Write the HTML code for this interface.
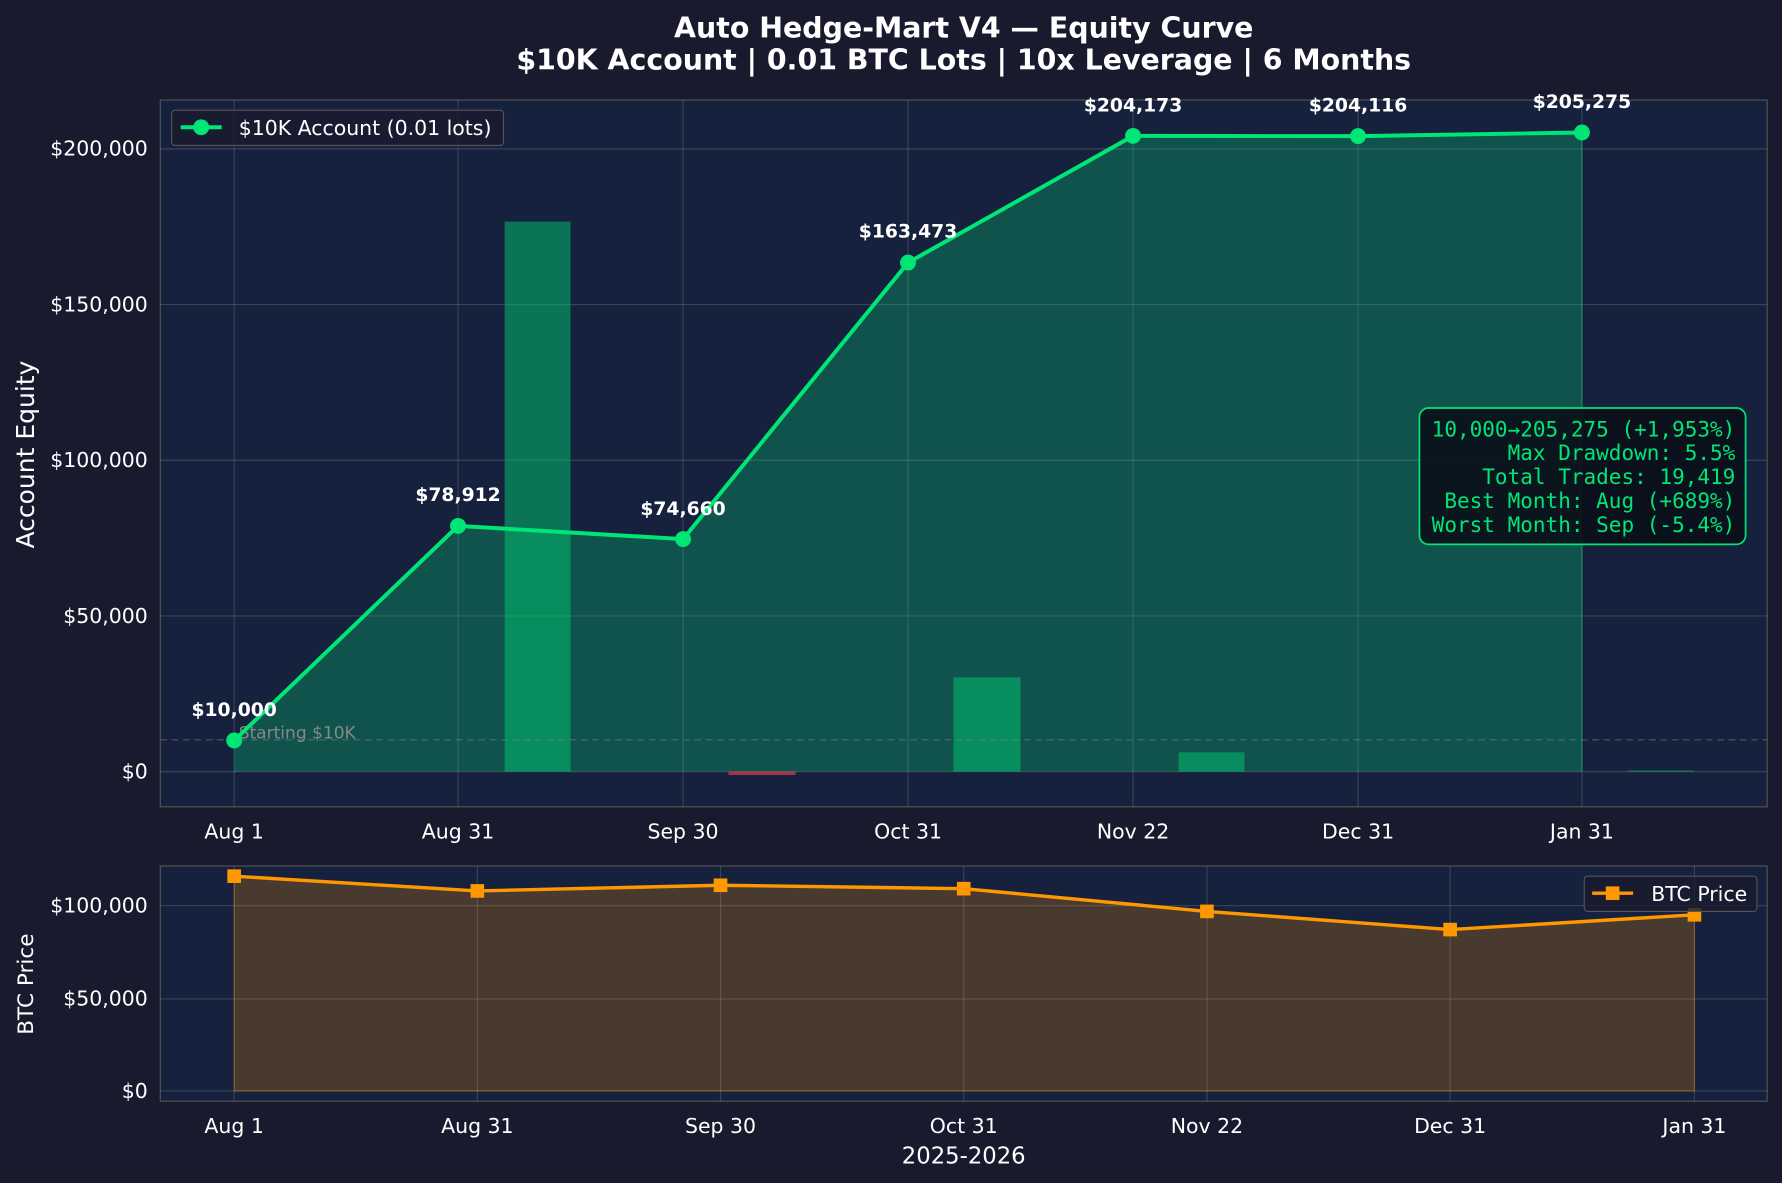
<!DOCTYPE html>
<html><head><meta charset="utf-8"><style>html,body{margin:0;padding:0;background:#1a1a2e}svg{display:block}</style></head><body>
<svg width="1782" height="1183" viewBox="0 0 1568 1041" xmlns="http://www.w3.org/2000/svg" font-family="DejaVu Sans, Liberation Sans, sans-serif">
<rect width="1568" height="1041" fill="#1a1a2e"/>
<text x="848" y="33" fill="#fff" font-size="25" font-weight="bold" text-anchor="middle">Auto Hedge-Mart V4 — Equity Curve</text>
<text x="848" y="61" fill="#fff" font-size="25" font-weight="bold" text-anchor="middle">$10K Account | 0.01 BTC Lots | 10x Leverage | 6 Months</text>
<rect x="141" y="88" width="1414" height="622" fill="#16213e" stroke="#555" stroke-width="1"/>
<g stroke="#fff" stroke-opacity="0.15" stroke-width="1">
<line x1="141" x2="1555" y1="131" y2="131"/><line x1="141" x2="1555" y1="268" y2="268"/><line x1="141" x2="1555" y1="405" y2="405"/><line x1="141" x2="1555" y1="542" y2="542"/><line x1="141" x2="1555" y1="679" y2="679"/>
<line y1="88" y2="710" x1="206" x2="206"/><line y1="88" y2="710" x1="403" x2="403"/><line y1="88" y2="710" x1="601" x2="601"/><line y1="88" y2="710" x1="799" x2="799"/><line y1="88" y2="710" x1="997" x2="997"/><line y1="88" y2="710" x1="1195" x2="1195"/><line y1="88" y2="710" x1="1392" x2="1392"/>
</g>
<polygon points="206,679 206,651.6 403,462.8 601,474.4 799,231.1 997,119.6 1195,119.8 1392,116.6 1392,679" fill="#00e676" fill-opacity="0.25"/>
<line x1="1392" y1="116.6" x2="1392" y2="679" stroke="#00e676" stroke-opacity="0.4"/>
<rect x="444" y="195" width="58" height="484" fill="#00c870" fill-opacity="0.5"/>
<rect x="641" y="679" width="59" height="3" fill="#e53950" fill-opacity="0.7"/>
<rect x="839" y="596" width="59" height="83" fill="#00c870" fill-opacity="0.5"/>
<rect x="1037" y="662" width="58" height="17" fill="#00c870" fill-opacity="0.5"/>
<rect x="1432" y="678" width="59" height="1" fill="#00c870" fill-opacity="0.5"/>
<line x1="141" x2="1555" y1="651" y2="651" stroke="#888" stroke-opacity="0.5" stroke-dasharray="6,4"/>
<text x="210" y="650" fill="#888" font-size="15">Starting $10K</text>
<polyline points="206,651.6 403,462.8 601,474.4 799,231.1 997,119.6 1195,119.8 1392,116.6" fill="none" stroke="#00e676" stroke-width="3.5"/>
<g fill="#00e676"><circle cx="206" cy="651.6" r="7"/><circle cx="403" cy="462.8" r="7"/><circle cx="601" cy="474.4" r="7"/><circle cx="799" cy="231.1" r="7"/><circle cx="997" cy="119.6" r="7"/><circle cx="1195" cy="119.8" r="7"/><circle cx="1392" cy="116.6" r="7"/></g>
<g fill="#fff" font-size="16.5" font-weight="bold" text-anchor="middle">
<text x="206" y="630">$10,000</text><text x="403" y="441">$78,912</text><text x="601" y="453">$74,660</text><text x="799" y="209">$163,473</text><text x="997" y="98">$204,173</text><text x="1195" y="98">$204,116</text><text x="1392" y="95">$205,275</text>
</g>
<g fill="#fff" font-size="18" text-anchor="end">
<text x="130" y="137">$200,000</text><text x="130" y="274">$150,000</text><text x="130" y="411">$100,000</text><text x="130" y="548">$50,000</text><text x="130" y="685">$0</text>
</g>
<g fill="#fff" font-size="18" text-anchor="middle">
<text x="206" y="738">Aug 1</text><text x="403" y="738">Aug 31</text><text x="601" y="738">Sep 30</text><text x="799" y="738">Oct 31</text><text x="997" y="738">Nov 22</text><text x="1195" y="738">Dec 31</text><text x="1392" y="738">Jan 31</text>
</g>
<text transform="translate(30,400) rotate(-90)" fill="#fff" font-size="22" text-anchor="middle">Account Equity</text>
<rect x="151" y="97" width="292" height="31" rx="3" fill="#1a1a2e" fill-opacity="0.8" stroke="#555"/>
<line x1="159" x2="195" y1="112" y2="112" stroke="#00e676" stroke-width="3.5"/><circle cx="177" cy="112" r="7" fill="#00e676"/>
<text x="210" y="119" fill="#fff" font-size="18">$10K Account (0.01 lots)</text>
<rect x="1249" y="359" width="287" height="120" rx="8" fill="#0a0e1a" fill-opacity="0.9" stroke="#00e676" stroke-width="1.5"/>
<g fill="#00e676" font-size="18.5" font-family="DejaVu Sans Mono, Liberation Mono, monospace" text-anchor="end">
<text x="1527" y="384">10,000→205,275 (+1,953%)</text><text x="1527" y="405">Max Drawdown: 5.5%</text><text x="1527" y="426">Total Trades: 19,419</text><text x="1527" y="447">Best Month: Aug (+689%)</text><text x="1527" y="468">Worst Month: Sep (-5.4%)</text>
</g>
<rect x="141" y="762" width="1414" height="207" fill="#16213e" stroke="#555"/>
<g stroke="#fff" stroke-opacity="0.15">
<line x1="141" x2="1555" y1="797" y2="797"/><line x1="141" x2="1555" y1="879" y2="879"/><line x1="141" x2="1555" y1="960" y2="960"/>
<line y1="762" y2="969" x1="206" x2="206"/><line y1="762" y2="969" x1="420" x2="420"/><line y1="762" y2="969" x1="634" x2="634"/><line y1="762" y2="969" x1="848" x2="848"/><line y1="762" y2="969" x1="1062" x2="1062"/><line y1="762" y2="969" x1="1276" x2="1276"/><line y1="762" y2="969" x1="1491" x2="1491"/>
</g>
<polygon points="206,960 206,771 420,784 634,779 848,782 1062,802 1276,818 1491,805 1491,960" fill="#ff9800" fill-opacity="0.22" stroke="#ff9800" stroke-opacity="0.35"/>
<polyline points="206,771 420,784 634,779 848,782 1062,802 1276,818 1491,805" fill="none" stroke="#ff9800" stroke-width="3"/>
<g fill="#ff9800"><rect x="200" y="765" width="12" height="12"/><rect x="414" y="778" width="12" height="12"/><rect x="628" y="773" width="12" height="12"/><rect x="842" y="776" width="12" height="12"/><rect x="1056" y="796" width="12" height="12"/><rect x="1270" y="812" width="12" height="12"/><rect x="1485" y="799" width="12" height="12"/></g>
<g fill="#fff" font-size="18" text-anchor="end">
<text x="130" y="803">$100,000</text><text x="130" y="885">$50,000</text><text x="130" y="966">$0</text>
</g>
<g fill="#fff" font-size="18" text-anchor="middle">
<text x="206" y="997">Aug 1</text><text x="420" y="997">Aug 31</text><text x="634" y="997">Sep 30</text><text x="848" y="997">Oct 31</text><text x="1062" y="997">Nov 22</text><text x="1276" y="997">Dec 31</text><text x="1491" y="997">Jan 31</text>
</g>
<text x="848" y="1024" fill="#fff" font-size="20" text-anchor="middle">2025-2026</text>
<text transform="translate(29,866) rotate(-90)" fill="#fff" font-size="19" text-anchor="middle">BTC Price</text>
<rect x="1394" y="771" width="152" height="31" rx="3" fill="#1a1a2e" fill-opacity="0.8" stroke="#555"/>
<line x1="1401" x2="1437" y1="786" y2="786" stroke="#ff9800" stroke-width="3"/><rect x="1413" y="780" width="12" height="12" fill="#ff9800"/>
<text x="1453" y="793" fill="#fff" font-size="18">BTC Price</text>
</svg>
</body></html>
